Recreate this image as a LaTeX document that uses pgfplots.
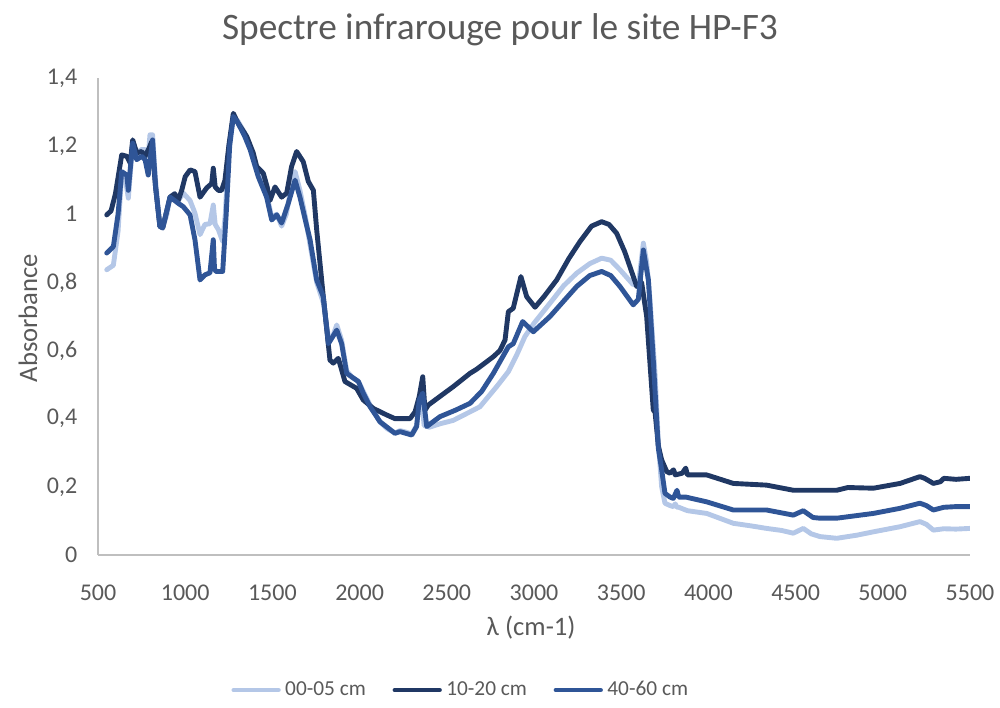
\documentclass[border=0pt]{standalone}
\usepackage{pgfplots}
\pgfplotsset{compat=1.18}
\usepackage{fontspec}
\setmainfont{Carlito}
\definecolor{cA}{HTML}{B4C7E7}
\definecolor{cB}{HTML}{203864}
\definecolor{cC}{HTML}{2F5597}
\definecolor{txt}{HTML}{595959}
\definecolor{axl}{HTML}{BFBFBF}
\begin{document}
\begin{tikzpicture}[x=1pt,y=1pt]
\useasboundingbox (0,0) rectangle (450,318.6);
\node[text=txt,font=\fontsize{16.8}{19}\selectfont] at (225,305) {Spectre infrarouge pour le site HP-F3};
\node[text=txt,font=\fontsize{12}{14}\selectfont,rotate=90] at (12.6,175.5) {Absorbance};
\node[text=txt,font=\fontsize{12}{14}\selectfont] at (239,36) {λ (cm-1)};
\begin{axis}[
  at={(44.1pt,68.85pt)}, anchor=south west,
  width=392.4pt, height=214.7pt, scale only axis,
  xmin=500, xmax=5500, ymin=0, ymax=1.4,
  xtick={500,1000,1500,2000,2500,3000,3500,4000,4500,5000,5500},
  ytick={0,0.2,0.4,0.6,0.8,1,1.2,1.4},
  axis x line*=bottom, axis y line*=left,
  axis line style={draw=axl, line width=0.8pt},
  major tick length=0pt,
  tick label style={text=txt, font=\fontsize{10.8}{13}\selectfont},
  /pgf/number format/assume math mode=true,
  /pgf/number format/1000 sep={},
  yticklabel style={/pgf/number format/use comma, /pgf/number format/fixed, xshift=-5.8pt},
  xticklabel style={yshift=-10pt},
  legend style={at={(0.4174,-0.283)}, anchor=center, draw=none, fill=none,
    legend columns=3, font=\fontsize{9.6}{12}\selectfont, text=txt,
    /tikz/every odd column/.append style={inner sep=1pt},
    /tikz/every even column/.append style={column sep=10pt}},
  legend image code/.code={\draw[#1] (0pt,0pt) -- (20pt,0pt);},
  every axis plot/.append style={line width=2.2pt, line join=round, line cap=round},
]
\addplot[cA] coordinates {
(550,0.837)(588,0.85)(615,0.95)(636,1.12)(655,1.11)(674,1.047)(690,1.15)(699,1.20)(722,1.18)(750,1.19)(770,1.19)(788,1.17)(798,1.233)(813,1.233)(830,1.10)(855,0.964)(871,0.96)(895,1.00)(913,1.05)(940,1.06)(960,1.04)(989,1.062)(1028,1.04)(1056,1.003)(1085,0.94)(1113,0.97)(1142,0.972)(1161,1.027)(1172,0.97)(1190,0.955)(1215,0.92)(1230,1.00)(1250,1.20)(1276,1.28)(1300,1.275)(1340,1.24)(1372,1.20)(1419,1.12)(1467,1.06)(1496,0.99)(1525,1.00)(1553,0.965)(1580,1.00)(1610,1.09)(1630,1.125)(1658,1.07)(1690,0.99)(1716,0.91)(1754,0.80)(1792,0.74)(1821,0.64)(1845,0.64)(1869,0.675)(1897,0.63)(1926,0.54)(1960,0.52)(1993,0.51)(2021,0.48)(2060,0.44)(2117,0.39)(2160,0.37)(2203,0.358)(2232,0.365)(2270,0.36)(2299,0.355)(2327,0.38)(2342,0.45)(2355,0.465)(2370,0.38)(2400,0.375)(2461,0.385)(2537,0.395)(2633,0.42)(2690,0.435)(2786,0.494)(2853,0.538)(2901,0.587)(2948,0.641)(3000,0.68)(3092,0.739)(3170,0.79)(3245,0.827)(3320,0.855)(3388,0.871)(3440,0.865)(3493,0.837)(3569,0.793)(3600,0.80)(3627,0.915)(3646,0.86)(3665,0.75)(3694,0.533)(3713,0.33)(3732,0.20)(3751,0.152)(3780,0.145)(3799,0.142)(3810,0.15)(3820,0.14)(3830,0.14)(3880,0.13)(3990,0.122)(4143,0.093)(4250,0.085)(4334,0.078)(4420,0.072)(4487,0.064)(4544,0.078)(4590,0.062)(4640,0.054)(4736,0.049)(4850,0.058)(4946,0.068)(5099,0.083)(5213,0.098)(5250,0.09)(5290,0.073)(5350,0.077)(5420,0.076)(5500,0.078)
};
\addlegendentry{00-05 cm}
\addplot[cB] coordinates {
(550,0.998)(575,1.01)(600,1.06)(636,1.174)(665,1.17)(685,1.15)(699,1.218)(722,1.18)(750,1.184)(770,1.17)(794,1.195)(808,1.213)(830,1.08)(855,0.964)(871,0.96)(913,1.05)(940,1.06)(960,1.04)(980,1.07)(1000,1.11)(1028,1.13)(1056,1.125)(1085,1.05)(1123,1.077)(1152,1.09)(1161,1.135)(1172,1.08)(1190,1.07)(1209,1.07)(1228,1.10)(1250,1.20)(1276,1.296)(1300,1.27)(1353,1.228)(1390,1.18)(1410,1.14)(1448,1.12)(1470,1.08)(1486,1.04)(1515,1.08)(1553,1.05)(1582,1.062)(1610,1.14)(1639,1.184)(1677,1.154)(1706,1.096)(1735,1.07)(1754,0.954)(1792,0.758)(1830,0.572)(1849,0.563)(1878,0.577)(1916,0.509)(1983,0.489)(2021,0.455)(2079,0.43)(2155,0.411)(2203,0.40)(2289,0.40)(2318,0.42)(2342,0.465)(2362,0.523)(2375,0.425)(2394,0.44)(2460,0.465)(2537,0.494)(2633,0.533)(2671,0.545)(2767,0.582)(2805,0.60)(2834,0.631)(2853,0.714)(2881,0.724)(2925,0.817)(2958,0.758)(3006,0.727)(3060,0.76)(3130,0.807)(3200,0.87)(3264,0.92)(3330,0.965)(3388,0.978)(3430,0.97)(3474,0.944)(3520,0.89)(3550,0.846)(3589,0.788)(3617,0.80)(3646,0.70)(3684,0.425)(3694,0.42)(3713,0.32)(3732,0.279)(3761,0.245)(3780,0.24)(3800,0.25)(3810,0.235)(3850,0.24)(3870,0.255)(3880,0.235)(3990,0.235)(4143,0.21)(4334,0.205)(4487,0.19)(4736,0.19)(4800,0.198)(4946,0.196)(5099,0.21)(5213,0.23)(5240,0.225)(5290,0.21)(5330,0.215)(5350,0.225)(5420,0.222)(5500,0.225)
};
\addlegendentry{10-20 cm}
\addplot[cC] coordinates {
(550,0.886)(588,0.905)(615,1.00)(636,1.125)(665,1.115)(674,1.07)(688,1.15)(699,1.208)(722,1.16)(750,1.17)(770,1.16)(788,1.115)(813,1.218)(830,1.08)(855,0.964)(871,0.96)(913,1.05)(940,1.04)(960,1.032)(989,1.022)(1028,0.998)(1056,0.925)(1085,0.807)(1113,0.822)(1142,0.828)(1161,0.925)(1168,0.84)(1176,0.832)(1215,0.832)(1235,1.00)(1255,1.20)(1276,1.287)(1300,1.27)(1340,1.23)(1372,1.19)(1419,1.11)(1467,1.05)(1496,0.983)(1525,0.998)(1553,0.974)(1590,1.03)(1630,1.10)(1658,1.05)(1690,0.98)(1716,0.925)(1754,0.807)(1792,0.758)(1821,0.62)(1869,0.66)(1897,0.62)(1926,0.533)(1993,0.509)(2021,0.475)(2060,0.435)(2117,0.391)(2203,0.357)(2232,0.362)(2299,0.352)(2327,0.377)(2342,0.455)(2362,0.475)(2385,0.377)(2461,0.406)(2550,0.425)(2633,0.445)(2700,0.48)(2767,0.533)(2853,0.611)(2881,0.62)(2935,0.685)(2996,0.655)(3092,0.70)(3170,0.745)(3245,0.788)(3320,0.82)(3388,0.832)(3440,0.82)(3493,0.788)(3569,0.734)(3598,0.75)(3627,0.895)(3656,0.807)(3684,0.572)(3713,0.313)(3732,0.25)(3751,0.181)(3780,0.17)(3799,0.166)(3820,0.19)(3830,0.17)(3870,0.17)(3990,0.156)(4143,0.132)(4334,0.132)(4487,0.117)(4544,0.13)(4600,0.11)(4640,0.108)(4736,0.108)(4946,0.122)(5099,0.137)(5213,0.152)(5250,0.145)(5290,0.132)(5350,0.14)(5420,0.142)(5500,0.142)
};
\addlegendentry{40-60 cm}
\end{axis}
\end{tikzpicture}
\end{document}
